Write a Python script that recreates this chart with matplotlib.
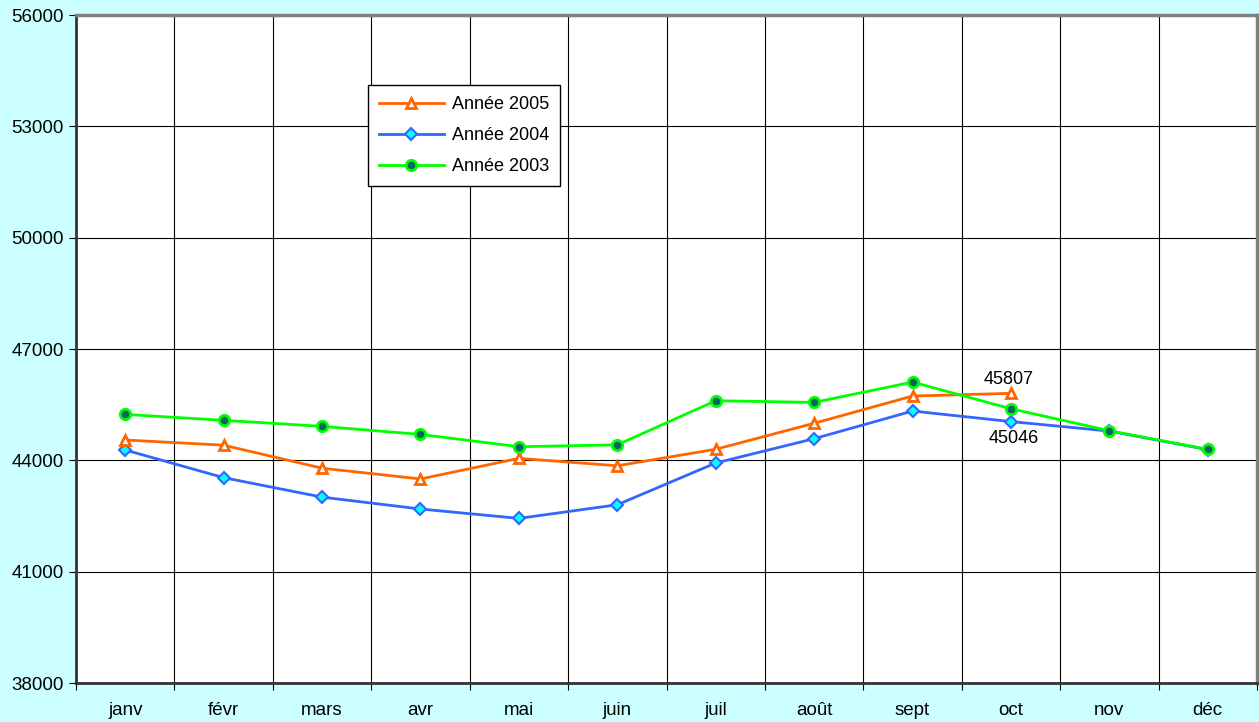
import numpy as np
from matplotlib import pyplot as plt

plt.rcParams['font.family'] = ['Liberation Sans', 'DejaVu Sans']

months = ['janv', 'févr', 'mars', 'avr', 'mai', 'juin',
          'juil', 'août', 'sept', 'oct', 'nov', 'déc']
y2005 = [44550, 44410, 43790, 43500, 44055, 43855, 44300, 45000, 45735, 45807]
y2004 = [44280, 43535, 43010, 42690, 42437, 42805, 43930, 44585, 45330, 45046, 44790, 44290]
y2003 = [45240, 45080, 44917, 44700, 44368, 44420, 45608, 45563, 46111, 45392, 44800, 44297]
yticks = [38000, 41000, 44000, 47000, 50000, 53000, 56000]

fig = plt.figure(figsize=(12.59, 7.22), dpi=100, facecolor='#CCFFFF')
ax = fig.add_axes([0.0604, 0.054, 0.938, 0.925])
ax.set_facecolor('white')

x = np.arange(12) + 0.5
ax.plot(x[:len(y2005)], y2005, color='#FF6600', lw=2, marker='^', ms=7.5,
        mfc='#FFFFFF', mec='#FF6600', mew=2, label='Année 2005', zorder=4)
ax.plot(x, y2004, color='#3366FF', lw=2, marker='D', ms=6,
        mfc='#00FFFF', mec='#3366FF', mew=1.5, label='Année 2004', zorder=3)
ax.plot(x, y2003, color='#00FF00', lw=2, marker='o', ms=7.5,
        mfc='#006666', mec='#00FF00', mew=2, label='Année 2003', zorder=5)

# data labels on the october points
ax.annotate(str(y2005[9]), (x[9], y2005[9]), xytext=(-2, 3.5), textcoords='offset points',
            ha='center', va='bottom', fontsize=13)
ax.annotate(str(y2004[9]), (x[9], y2004[9]), xytext=(2, -6), textcoords='offset points',
            ha='center', va='top', fontsize=13)

ax.set_xlim(0, 12)
ax.set_ylim(38000, 56000)
ax.set_yticks(yticks)
ax.set_yticklabels([str(v) for v in yticks], fontsize=13.5)
ax.set_xticks(np.arange(13))
ax.set_xticklabels([])
ax.set_xticks(x, minor=True)
ax.set_xticklabels(months, minor=True, fontsize=13.5)
ax.tick_params(axis='x', which='minor', length=0, pad=14)
ax.tick_params(axis='x', which='major', length=5, direction='out')
ax.tick_params(axis='y', length=5, direction='out', pad=4)

ax.grid(True, which='major', color='black', lw=0.8)
ax.set_axisbelow(True)
for s in ['left', 'bottom']:
    ax.spines[s].set_color('#333333')
    ax.spines[s].set_linewidth(2)
for s in ['top', 'right']:
    ax.spines[s].set_color('#808080')
    ax.spines[s].set_linewidth(2.5)

leg = ax.legend(loc='upper left', bbox_to_anchor=(0.2472, 0.895), borderaxespad=0,
                fontsize=13, frameon=True, fancybox=False, edgecolor='black',
                framealpha=1, handlelength=3.6, handletextpad=0.45,
                borderpad=0.6, labelspacing=0.78)
leg.get_frame().set_linewidth(1)

fig.savefig('out.png', dpi=100, facecolor=fig.get_facecolor())
